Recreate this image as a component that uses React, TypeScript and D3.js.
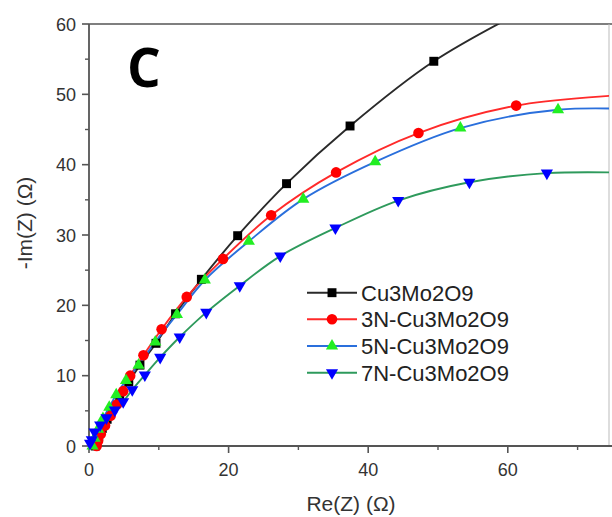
import React from "react";
import * as d3 from "d3";

const seriesNames = ["Cu3Mo2O9", "3N-Cu3Mo2O9", "5N-Cu3Mo2O9", "7N-Cu3Mo2O9"];

const cuX = [0.9, 1.1, 1.4, 1.9, 2.6, 3.4, 4.4, 5.7, 7.3, 9.6, 12.4, 16.1, 21.3, 28.3, 37.4, 49.4, 65.0];
const cuY = [0.0, 0.6, 1.4, 2.5, 3.8, 5.3, 7.1, 9.1, 11.5, 14.6, 18.8, 23.7, 29.9, 37.3, 45.5, 54.7, 63.3];

const n3X = [1.1, 1.3, 1.7, 2.3, 3.1, 4.0, 4.9, 5.9, 7.8, 10.4, 14.0, 19.2, 26.1, 35.4, 47.2, 61.2, 78.0];
const n3Y = [0.0, 0.7, 1.7, 2.9, 4.3, 5.9, 7.8, 10.0, 12.9, 16.6, 21.2, 26.6, 32.8, 38.9, 44.5, 48.4, 50.0];

const n5X = [0.5, 0.8, 1.3, 2.0, 2.9, 3.9, 5.3, 7.1, 9.5, 12.6, 16.6, 22.9, 30.7, 41.0, 53.2, 67.2, 80.0];
const n5Y = [0.0, 1.1, 2.4, 3.9, 5.5, 7.3, 9.3, 11.5, 14.8, 18.7, 23.6, 29.1, 35.1, 40.4, 45.2, 47.8, 47.8];

const n7X = [0.15, 0.4, 0.8, 1.6, 2.5, 3.7, 4.9, 6.2, 8.0, 10.2, 13.0, 16.8, 21.6, 27.4, 35.3, 44.3, 54.5, 65.6, 80.0];
const n7Y = [0.4, 0.9, 2.0, 3.0, 4.0, 5.1, 6.3, 8.0, 10.1, 12.6, 15.5, 19.0, 22.8, 27.0, 31.0, 34.9, 37.5, 38.8, 38.8];

const xTicks = [0, 20, 40, 60];
const xMinor = [10, 30, 50, 70];
const yTicks = [0, 10, 20, 30, 40, 50, 60];
const yMinor = [5, 15, 25, 35, 45, 55];

const W = 612, H = 517;
const L = 89, R = 609, T = 24, B = 446;

export default function App() {
  const x = d3.scaleLinear().domain([0, 74.5]).range([L, R]);
  const y = d3.scaleLinear().domain([0, 60]).range([B, T]);

  const series = [
    { name: seriesNames[0], xs: cuX, ys: cuY, line: "#2a2a2a", fill: "#000000", sym: d3.symbolSquare, size: 80, rot: 0 },
    { name: seriesNames[1], xs: n3X, ys: n3Y, line: "#ff2a2a", fill: "#ff0000", sym: d3.symbolCircle, size: 88, rot: 0 },
    { name: seriesNames[2], xs: n5X, ys: n5Y, line: "#2a6fdc", fill: "#22ee22", sym: d3.symbolTriangle, size: 64, rot: 0 },
    { name: seriesNames[3], xs: n7X, ys: n7Y, line: "#2e9a5c", fill: "#0000ff", sym: d3.symbolTriangle, size: 64, rot: 180 },
  ];

  const lineGen = d3.line<[number, number]>().x(d => x(d[0])).y(d => y(d[1])).curve(d3.curveCatmullRom.alpha(0.5));
  const axisColor = "#555";
  const textColor = "#333";
  const font = "'Liberation Sans', Arial, sans-serif";

  const legendRows = [292.7, 319.3, 346, 372.7];

  return (
    <svg width={W} height={H} style={{ position: "absolute", left: 0, top: 0, background: "#fff" }} fontFamily={font}>
      <defs>
        <clipPath id="plot">
          <rect x={L} y={T} width={R - L} height={B - T} />
        </clipPath>
      </defs>
      <rect x={0} y={0} width={W} height={H} fill="#fff" />
      {/* frame */}
      <line x1={L} x2={W} y1={T} y2={T} stroke={axisColor} strokeWidth={1.6} />
      <line x1={R} x2={R} y1={T} y2={B} stroke="#bbb" strokeWidth={1} />
      <line x1={L} x2={W} y1={B} y2={B} stroke={axisColor} strokeWidth={1.8} />
      <line x1={L} x2={L} y1={T} y2={B} stroke={axisColor} strokeWidth={1.8} />
      {/* x ticks */}
      {xTicks.map(t => (
        <g key={"xt" + t}>
          <line x1={x(t)} x2={x(t)} y1={B} y2={B + 7} stroke={axisColor} strokeWidth={1.6} />
          <text x={x(t)} y={B + 30} textAnchor="middle" fontSize={18} fill={textColor}>{t}</text>
        </g>
      ))}
      {xMinor.map(t => (
        <line key={"xm" + t} x1={x(t)} x2={x(t)} y1={B} y2={B + 4} stroke={axisColor} strokeWidth={1.4} />
      ))}
      {yTicks.map(t => (
        <g key={"yt" + t}>
          <line x1={L - 7} x2={L} y1={y(t)} y2={y(t)} stroke={axisColor} strokeWidth={1.6} />
          <text x={L - 13} y={y(t) + 6.5} textAnchor="end" fontSize={18} fill={textColor}>{t}</text>
        </g>
      ))}
      {yMinor.map(t => (
        <line key={"ym" + t} x1={L - 4} x2={L} y1={y(t)} y2={y(t)} stroke={axisColor} strokeWidth={1.4} />
      ))}
      <text x={351} y={511} textAnchor="middle" fontSize={21} fill={textColor}>Re(Z) (Ω)</text>
      <text transform="translate(32,223) rotate(-90)" textAnchor="middle" fontSize={21} fill={textColor}>-Im(Z) (Ω)</text>
      <text x={144} y={87} textAnchor="middle" fontSize={53} fontWeight="bold" fontFamily="'Open Sans', sans-serif" fill="#000">C</text>

      {/* lines */}
      <g clipPath="url(#plot)">
        {series.map(s => (
          <path key={"l" + s.name} d={lineGen(s.xs.map((v, i) => [v, s.ys[i]] as [number, number])) || ""} fill="none" stroke={s.line} strokeWidth={1.9} />
        ))}
      </g>
      {series.map(s => (
        <g key={"m" + s.name}>
          {s.xs.map((v, i) => (v <= 74.5 && s.ys[i] <= 60) ? (
            <path key={i} d={d3.symbol().type(s.sym).size(s.size)() || ""} transform={`translate(${x(v)},${y(s.ys[i])}) rotate(${s.rot})`} fill={s.fill} />
          ) : null)}
        </g>
      ))}

      {/* legend */}
      {series.map((s, i) => (
        <g key={"lg" + s.name}>
          <line x1={307} x2={357} y1={legendRows[i]} y2={legendRows[i]} stroke={s.line} strokeWidth={2} />
          <path d={d3.symbol().type(s.sym).size(s.size)() || ""} transform={`translate(332,${legendRows[i]}) rotate(${s.rot})`} fill={s.fill} />
          <text x={361} y={legendRows[i] + 8} fontSize={22} fill="#222">{s.name}</text>
        </g>
      ))}
    </svg>
  );
}
